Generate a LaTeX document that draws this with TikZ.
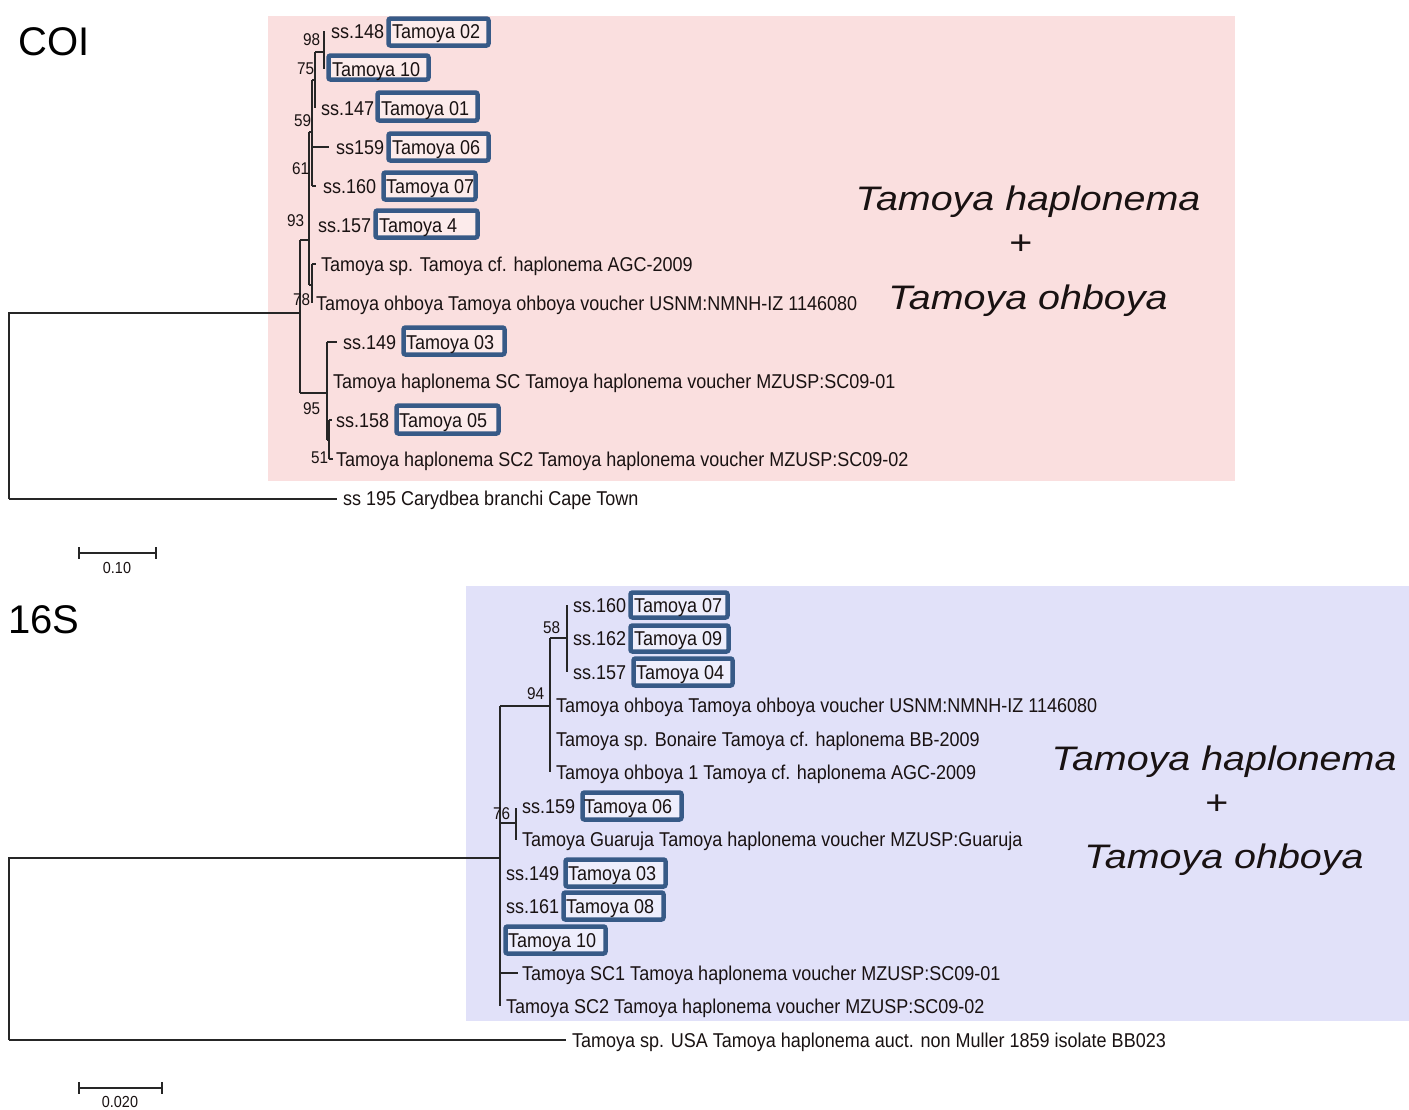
\documentclass[tikz,border=0pt]{standalone}
\usepackage{fontspec}
\setmainfont{Liberation Sans}
\newfontfamily\treefont{Liberation Sans}[FakeStretch=0.9]
\newfontfamily\bigfont{Liberation Sans}[FakeStretch=1.16]
\definecolor{pinkbg}{RGB}{250,223,223}
\definecolor{lavbg}{RGB}{225,225,249}
\definecolor{pinkin}{RGB}{252,235,235}
\definecolor{lavin}{RGB}{238,238,252}
\definecolor{boxblue}{RGB}{55,90,135}
\definecolor{ink}{RGB}{25,18,18}
\begin{document}
\begin{tikzpicture}[x=1pt,y=-1pt,
  lbl/.style={anchor=base west, inner sep=0pt, text=ink, font=\treefont\fontsize{20}{24}\selectfont},
  bsv/.style={anchor=base west, inner sep=0pt, text=ink, font=\treefont\fontsize{17}{20}\selectfont},
  sclbl/.style={anchor=center, inner sep=0pt, text=ink, font=\treefont\fontsize{16}{19}\selectfont},
  big/.style={anchor=base, inner sep=0pt, text=ink, font=\bigfont\itshape\fontsize{34}{40}\selectfont},
  plus/.style={anchor=center, inner sep=0pt, text=ink, font=\bigfont\fontsize{34}{40}\selectfont},
  title/.style={anchor=base west, inner sep=0pt, text=black, font=\fontsize{40}{46}\selectfont},
  br/.style={line width=1.5pt, draw=black!85},
  tpbox/.style={draw=boxblue, line width=4.5pt, rounded corners=2pt, fill=pinkin},
  lvbox/.style={draw=boxblue, line width=4.5pt, rounded corners=2pt, fill=lavin}]
\useasboundingbox (0,0) rectangle (1409,1109);
\fill[white] (0,0) rectangle (1409,1109);
% ---------------- backgrounds
\fill[pinkbg] (268,16) rectangle (1235,481);
\fill[lavbg] (466,586) rectangle (1409,1021);
% ---------------- COI boxes
\draw[tpbox] (388.5,18.5) rectangle (488.5,45.5);
\draw[tpbox] (328.5,55.5) rectangle (428.5,79.5);
\draw[tpbox] (377.5,92.5) rectangle (477.5,120.5);
\draw[tpbox] (388.5,133.5) rectangle (488.5,160.5);
\draw[tpbox] (383.5,172.5) rectangle (475.5,199.5);
\draw[tpbox] (375.5,210.5) rectangle (477.5,237.5);
\draw[tpbox] (403.5,327.5) rectangle (504.5,354.5);
\draw[tpbox] (396.5,405.5) rectangle (498.5,433.5);
% ---------------- 16S boxes
\draw[lvbox] (630.5,592.5) rectangle (727.5,617.5);
\draw[lvbox] (630.5,625.5) rectangle (728.5,651.5);
\draw[lvbox] (633.5,658.5) rectangle (732.5,685.5);
\draw[lvbox] (582.5,792.5) rectangle (681.5,819.5);
\draw[lvbox] (565.5,859.5) rectangle (665.5,886.5);
\draw[lvbox] (563.5,892.5) rectangle (663.5,919.5);
\draw[lvbox] (505.5,926.5) rectangle (605.5,953.5);
% ---------------- COI tree
\coordinate (cR) at (9,313);
\coordinate (cA) at (300,313);
\draw[br] (9,499) -- (cR) -- (cA);
\draw[br] (9,499) -- (337,499);
\draw[br] (300,240) -- (300,393);
\draw[br] (300,240) -- (309,240);
\draw[br] (309,132) -- (309,285);
\draw[br] (309,132) -- (312,132);
\draw[br] (312,80) -- (312,186);
\draw[br] (312,147) -- (329,147);
\draw[br] (312,186) -- (316,186);
\draw[br] (312,80) -- (315,80);
\draw[br] (315,52) -- (315,108);
\draw[br] (315,52) -- (324,52);
\draw[br] (324,31) -- (324,69);
\draw[br] (309,285) -- (312,285);
\draw[br] (312,264) -- (312,303);
\draw[br] (312,264) -- (316,264);
\draw[br] (300,393) -- (327,393);
\draw[br] (327,342) -- (327,440);
\draw[br] (327,342) -- (337,342);
\draw[br] (327,440) -- (329,440);
\draw[br] (329,420) -- (329,459);
\draw[br] (329,420) -- (332,420);
\draw[br] (329,459) -- (333,459);
% COI labels
\node[lbl] (a1) at (331,38) {ss.148};
\node[lbl] (a1b) at (392,38) {Tamoya 02};
\node[lbl] (a2) at (332,76) {Tamoya 10};
\node[lbl] (a3) at (321,115) {ss.147};
\node[lbl] (a3b) at (381,115) {Tamoya 01};
\node[lbl] (a4) at (336,154) {ss159};
\node[lbl] (a4b) at (392,154) {Tamoya 06};
\node[lbl] (a5) at (323,193) {ss.160};
\node[lbl] (a5b) at (386,193) {Tamoya 07};
\node[lbl] (a6) at (318,232) {ss.157};
\node[lbl] (a6b) at (379,232) {Tamoya 4};
\node[lbl] (a7) at (321,271) {Tamoya sp. Tamoya cf. haplonema AGC-2009};
\node[lbl] (a8) at (316,310) {Tamoya ohboya Tamoya ohboya voucher USNM:NMNH-IZ 1146080};
\node[lbl] (a9) at (343,349) {ss.149};
\node[lbl] (a9b) at (406,349) {Tamoya 03};
\node[lbl] (a10) at (333,388) {Tamoya haplonema SC Tamoya haplonema voucher MZUSP:SC09-01};
\node[lbl] (a11) at (336,427) {ss.158};
\node[lbl] (a11b) at (399,427) {Tamoya 05};
\node[lbl] (a12) at (336,466) {Tamoya haplonema SC2 Tamoya haplonema voucher MZUSP:SC09-02};
\node[lbl] (a13) at (343,505) {ss 195 Carydbea branchi Cape Town};
% COI bootstrap
\node[bsv] (b98) at (303,45) {98};
\node[bsv] (b75) at (297,74) {75};
\node[bsv] (b59) at (294,126) {59};
\node[bsv] (b61) at (292,174) {61};
\node[bsv] (b93) at (287,226) {93};
\node[bsv] (b78) at (293,305) {78};
\node[bsv] (b95) at (303,414) {95};
\node[bsv] (b51) at (311,463) {51};
% ---------------- 16S tree
\coordinate (sR) at (9,858);
\coordinate (sB) at (500,858);
\draw[br] (9,1040) -- (sR) -- (sB);
\draw[br] (9,1040) -- (566,1040);
\draw[br] (500,706) -- (500,1006);
\draw[br] (500,706) -- (550,706);
\draw[br] (550,638) -- (550,772);
\draw[br] (550,638) -- (567,638);
\draw[br] (567,605) -- (567,672);
\draw[br] (500,823) -- (516,823);
\draw[br] (516,808) -- (516,840);
\draw[br] (500,973) -- (518,973);
% 16S labels
\node[lbl] (c1) at (573,612) {ss.160};
\node[lbl] (c1b) at (634,612) {Tamoya 07};
\node[lbl] (c2) at (573,645) {ss.162};
\node[lbl] (c2b) at (634,645) {Tamoya 09};
\node[lbl] (c3) at (573,679) {ss.157};
\node[lbl] (c3b) at (636,679) {Tamoya 04};
\node[lbl] (c4) at (556,712) {Tamoya ohboya Tamoya ohboya voucher USNM:NMNH-IZ 1146080};
\node[lbl] (c5) at (556,746) {Tamoya sp. Bonaire Tamoya cf. haplonema BB-2009};
\node[lbl] (c6) at (556,779) {Tamoya ohboya 1 Tamoya cf. haplonema AGC-2009};
\node[lbl] (c7) at (522,813) {ss.159};
\node[lbl] (c7b) at (584,813) {Tamoya 06};
\node[lbl] (c8) at (522,846) {Tamoya Guaruja Tamoya haplonema voucher MZUSP:Guaruja};
\node[lbl] (c9) at (506,880) {ss.149};
\node[lbl] (c9b) at (568,880) {Tamoya 03};
\node[lbl] (c10) at (506,913) {ss.161};
\node[lbl] (c10b) at (566,913) {Tamoya 08};
\node[lbl] (c11) at (508,947) {Tamoya 10};
\node[lbl] (c12) at (522,980) {Tamoya SC1 Tamoya haplonema voucher MZUSP:SC09-01};
\node[lbl] (c13) at (506,1013) {Tamoya SC2 Tamoya haplonema voucher MZUSP:SC09-02};
\node[lbl] (c14) at (572,1047) {Tamoya sp. USA Tamoya haplonema auct. non Muller 1859 isolate BB023};
% 16S bootstrap
\node[bsv] (d58) at (543,633) {58};
\node[bsv] (d94) at (527,699) {94};
\node[bsv] (d76) at (493,819) {76};
% ---------------- titles and group labels
\node[title] (tCOI) at (18,55) {COI};
\node[title] (t16S) at (8,633) {16S};
\node[big] (g1) at (1028,210) {Tamoya haplonema};
\node[plus] (g1p) at (1021,245) {+};
\node[big] (g1b) at (1028,309) {Tamoya ohboya};
\node[big] (g2) at (1224,770) {Tamoya haplonema};
\node[plus] (g2p) at (1217,805) {+};
\node[big] (g2b) at (1224,868) {Tamoya ohboya};
% ---------------- scale bars
\draw[br] (79,553) -- (156,553);
\draw[br] (79,547) -- (79,559);
\draw[br] (156,547) -- (156,559);
\node[sclbl] (s1) at (117,568) {0.10};
\draw[br] (79,1088) -- (162,1088);
\draw[br] (79,1082) -- (79,1094);
\draw[br] (162,1082) -- (162,1094);
\node[sclbl] (s2) at (120,1102) {0.020};
\end{tikzpicture}
\end{document}
